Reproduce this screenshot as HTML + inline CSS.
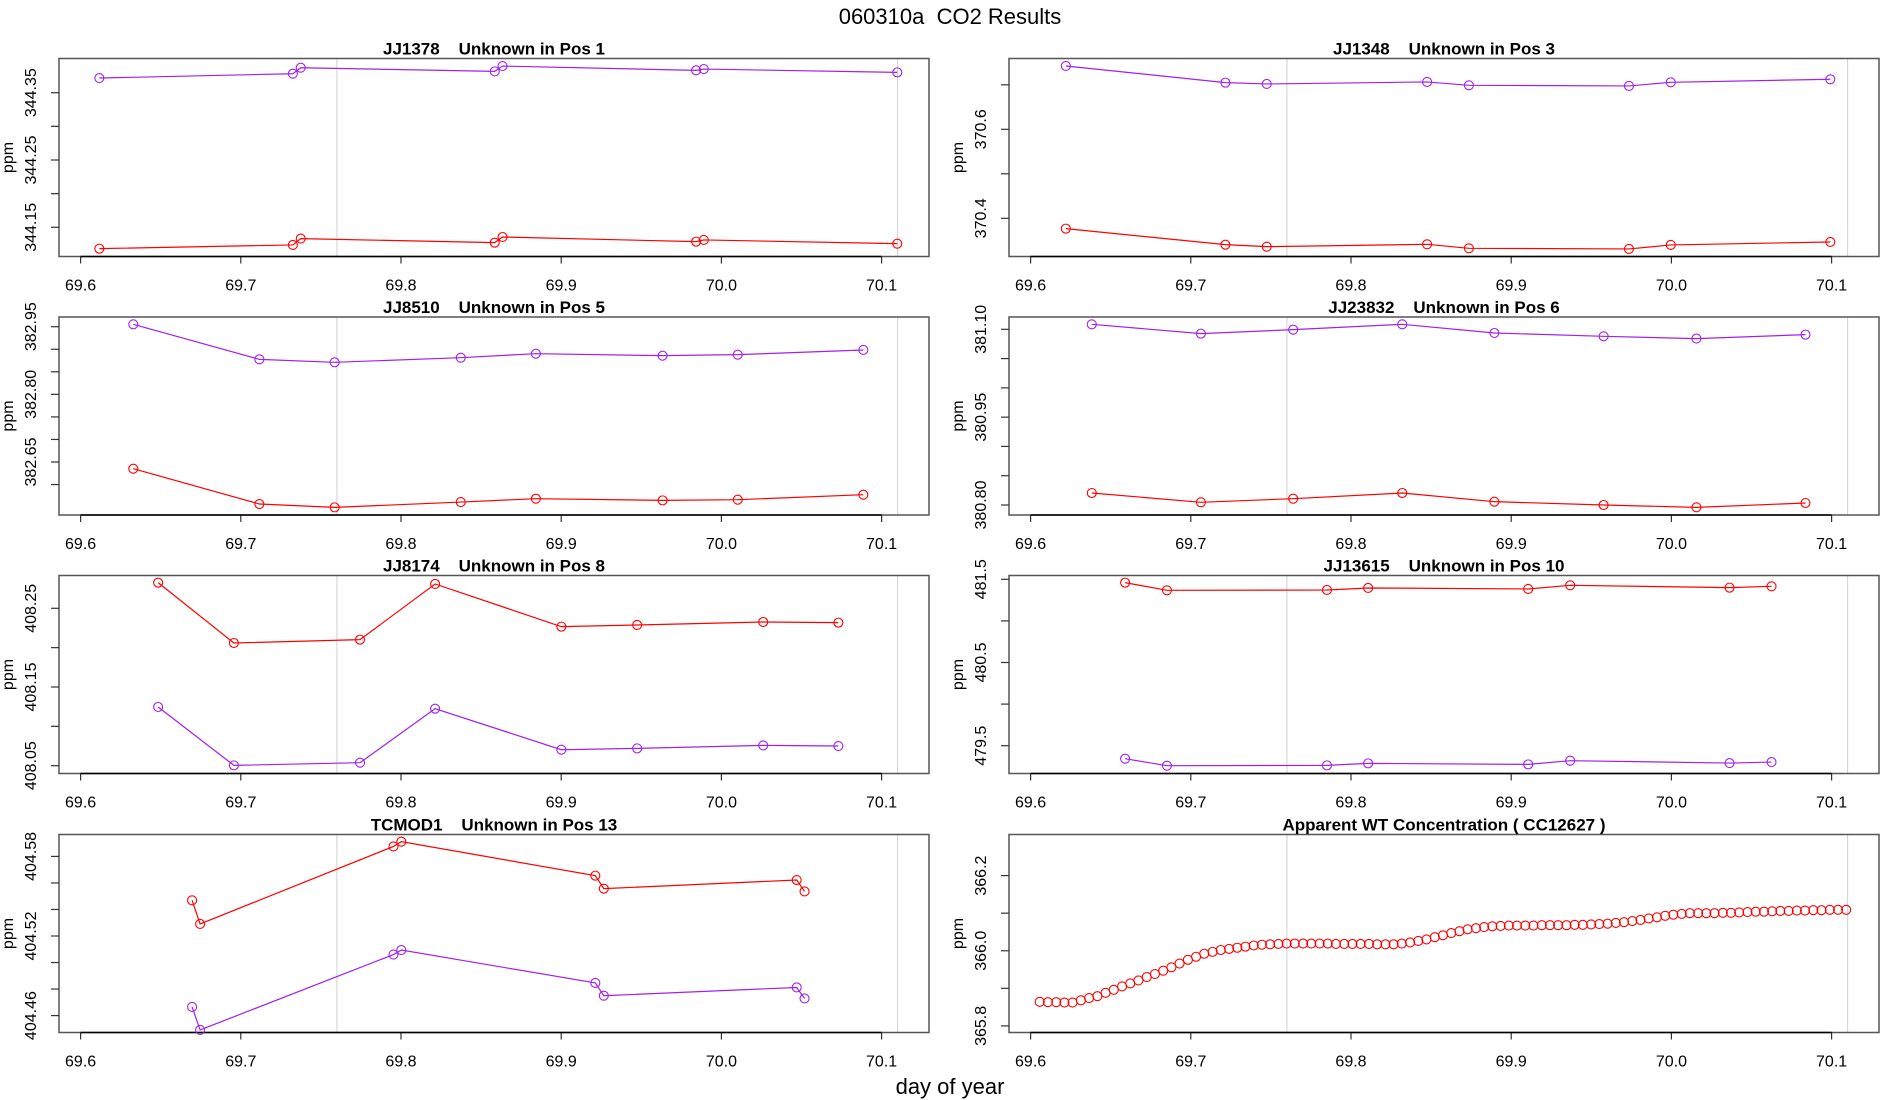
<!DOCTYPE html>
<html><head><meta charset="utf-8"><style>
body{margin:0;background:#fff;}
svg{display:block;font-family:"Liberation Sans",sans-serif;}
text{white-space:pre;}
</style></head><body>
<svg id="c" width="1900" height="1100" xmlns="http://www.w3.org/2000/svg" xml:space="preserve">
<text x="950" y="24" text-anchor="middle" font-size="22">060310a  CO2 Results</text>
<text x="950" y="1094" text-anchor="middle" font-size="22">day of year</text>
</svg>
<script>
// ---- data ----
const p1x=[69.6117,69.7325,69.7374,69.8585,69.8634,69.9842,69.989,70.1098];
const p1purple=[344.3718,344.3782,344.3871,344.3817,344.3896,344.3832,344.3851,344.3802];
const p1red=[344.1183,344.1238,344.1332,344.1272,344.1356,344.1287,344.1312,344.1257];
const p2x=[69.622,69.7216,69.7474,69.8475,69.8736,69.9735,69.9996,70.0992];
const p2purple=[370.7423,370.7049,370.7019,370.7064,370.6989,370.6974,370.7056,370.7124];
const p2red=[370.3768,370.3408,370.3363,370.3416,370.3326,370.3311,370.3401,370.3468];
const p3x=[69.6329,69.7116,69.7586,69.8373,69.8842,69.9633,70.0102,70.0886];
const p3purple=[382.9552,382.8776,382.871,382.8813,382.8902,382.8858,382.888,382.8984];
const p3red=[382.6352,382.5568,382.5494,382.5612,382.5686,382.5649,382.5664,382.5775];
const p4x=[69.6382,69.7063,69.7639,69.832,69.8895,69.9577,70.0156,70.0837];
const p4purple=[381.1085,381.0926,381.0994,381.1085,381.0937,381.088,381.0841,381.0909];
const p4red=[380.8205,380.8046,380.8108,380.8205,380.8057,380.8,380.796,380.8034];
const p5x=[69.6484,69.6957,69.7744,69.8213,69.9001,69.9474,70.0261,70.073];
const p5red=[408.2826,408.2059,408.2102,408.2809,408.2267,408.2288,408.2326,408.2318];
const p5purple=[408.1246,408.0504,408.0538,408.1225,408.0703,408.072,408.0758,408.075];
const p6x=[69.659,69.6851,69.785,69.8107,69.9106,69.9368,70.0363,70.0625];
const p6red=[481.46,481.3677,481.3717,481.3958,481.3838,481.4279,481.3998,481.4158];
const p6purple=[479.3437,479.2595,479.2635,479.2876,479.2756,479.3196,479.2916,479.3036];
const p7x=[69.6696,69.6746,69.7953,69.8002,69.9213,69.9266,70.047,70.0519];
const p7red=[404.5469,404.5291,404.5875,404.5911,404.5655,404.5557,404.5622,404.5536];
const p7purple=[404.4665,404.4492,404.506,404.5094,404.4846,404.475,404.4812,404.4729];
const p8x=[69.6057,69.6108,69.6160,69.6211,69.6262,69.6314,69.6365,69.6417,69.6468,69.6519,69.6571,69.6622,69.6673,69.6725,69.6776,69.6828,69.6879,69.6930,69.6982,69.7033,69.7084,69.7136,69.7187,69.7239,69.7290,69.7341,69.7393,69.7444,69.7495,69.7547,69.7598,69.7649,69.7701,69.7752,69.7804,69.7855,69.7906,69.7958,69.8009,69.8060,69.8112,69.8163,69.8215,69.8266,69.8317,69.8369,69.8420,69.8471,69.8523,69.8574,69.8626,69.8677,69.8728,69.8780,69.8831,69.8882,69.8934,69.8985,69.9036,69.9088,69.9139,69.9191,69.9242,69.9293,69.9345,69.9396,69.9447,69.9499,69.9550,69.9602,69.9653,69.9704,69.9756,69.9807,69.9858,69.9910,69.9961,70.0012,70.0064,70.0115,70.0167,70.0218,70.0269,70.0321,70.0372,70.0423,70.0475,70.0526,70.0578,70.0629,70.0680,70.0732,70.0783,70.0834,70.0886,70.0937,70.0989,70.1040,70.1091];
const p8red=[365.864,365.863,365.863,365.862,365.862,365.868,365.874,365.879,365.888,365.896,365.905,365.913,365.921,365.930,365.938,365.947,365.956,365.966,365.976,365.984,365.992,365.997,366.002,366.005,366.008,366.011,366.014,366.016,366.017,366.018,366.019,366.019,366.019,366.019,366.019,366.019,366.018,366.018,366.018,366.018,366.018,366.017,366.017,366.017,366.019,366.022,366.026,366.030,366.036,366.041,366.047,366.052,366.057,366.060,366.063,366.065,366.066,366.067,366.067,366.067,366.067,366.068,366.068,366.068,366.068,366.069,366.069,366.070,366.071,366.072,366.074,366.076,366.079,366.082,366.086,366.089,366.093,366.096,366.098,366.100,366.100,366.100,366.100,366.101,366.101,366.102,366.103,366.104,366.104,366.105,366.106,366.106,366.107,366.107,366.108,366.108,366.109,366.109,366.109];
const xTicks=[69.6,69.7,69.8,69.9,70.0,70.1];
const xTickLabels=["69.6","69.7","69.8","69.9","70.0","70.1"];
const refLines=[69.76,70.11];
const p1ticks=[344.15,344.20,344.25,344.30,344.35], p1labels=["344.15","","344.25","","344.35"];
const p2ticks=[370.3,370.4,370.5,370.6,370.7], p2labels=["","370.4","","370.6",""];
const p3ticks=[382.60,382.65,382.70,382.75,382.80,382.85,382.90,382.95], p3labels=["","382.65","","","382.80","","","382.95"];
const p4ticks=[380.80,380.85,380.90,380.95,381.00,381.05,381.10], p4labels=["380.80","","","380.95","","","381.10"];
const p5ticks=[408.05,408.10,408.15,408.20,408.25], p5labels=["408.05","","408.15","","408.25"];
const p6ticks=[479.5,480.0,480.5,481.0,481.5], p6labels=["479.5","","480.5","","481.5"];
const p7ticks=[404.46,404.48,404.50,404.52,404.54,404.56,404.58], p7labels=["404.46","","","404.52","","","404.58"];
const p8ticks=[365.8,365.9,366.0,366.1,366.2], p8labels=["365.8","","366.0","","366.2"];

const PURPLE="#a020f0", RED="#ff0000";
const panels=[
 {name:"jj1378",title:"JJ1378    Unknown in Pos 1",col:0,top:58.5,ya:[344.35,92.7],yb:[344.15,227.3],ticks:p1ticks,labels:p1labels,x:p1x,series:[[p1purple,PURPLE,"purple"],[p1red,RED,"red"]],lines:true},
 {name:"jj1348",title:"JJ1348    Unknown in Pos 3",col:1,top:58.5,ya:[370.6,129.3],yb:[370.4,218.3],ticks:p2ticks,labels:p2labels,x:p2x,series:[[p2purple,PURPLE,"purple"],[p2red,RED,"red"]],lines:true},
 {name:"jj8510",title:"JJ8510    Unknown in Pos 5",col:0,top:317,ya:[382.95,326.7],yb:[382.65,462],ticks:p3ticks,labels:p3labels,x:p3x,series:[[p3purple,PURPLE,"purple"],[p3red,RED,"red"]],lines:true},
 {name:"jj23832",title:"JJ23832    Unknown in Pos 6",col:1,top:317,ya:[381.10,329.3],yb:[380.80,505],ticks:p4ticks,labels:p4labels,x:p4x,series:[[p4purple,PURPLE,"purple"],[p4red,RED,"red"]],lines:true},
 {name:"jj8174",title:"JJ8174    Unknown in Pos 8",col:0,top:575.5,ya:[408.25,608.3],yb:[408.05,765.7],ticks:p5ticks,labels:p5labels,x:p5x,series:[[p5red,RED,"red"],[p5purple,PURPLE,"purple"]],lines:true},
 {name:"jj13615",title:"JJ13615    Unknown in Pos 10",col:1,top:575.5,ya:[481.5,579.3],yb:[479.5,745.7],ticks:p6ticks,labels:p6labels,x:p6x,series:[[p6red,RED,"red"],[p6purple,PURPLE,"purple"]],lines:true},
 {name:"tcmod1",title:"TCMOD1    Unknown in Pos 13",col:0,top:834.5,ya:[404.58,856.4],yb:[404.46,1015.6],ticks:p7ticks,labels:p7labels,x:p7x,series:[[p7red,RED,"red"],[p7purple,PURPLE,"purple"]],lines:true},
 {name:"wt-concentration",title:"Apparent WT Concentration ( CC12627 )",col:1,top:834.5,ya:[366.2,875.6],yb:[365.8,1025.9],ticks:p8ticks,labels:p8labels,x:p8x,series:[[p8red,RED,"red"]],lines:false}
];
const svg=document.getElementById('c');
const NS="http://www.w3.org/2000/svg";
function mk(tag,attrs,parent){const e=document.createElementNS(NS,tag);for(const k in attrs)e.setAttribute(k,attrs[k]);(parent||svg).appendChild(e);return e;}
const W=870,H=198;
panels.forEach(p=>{
  const L=p.col===0?59:1009, T=p.top, B=T+H;
  const g=mk('g',{});
  
  
  const xs=v=>L+21.6+(v-69.6)*1602;
  const ys=v=>p.ya[1]+(v-p.ya[0])*(p.yb[1]-p.ya[1])/(p.yb[0]-p.ya[0]);
  refLines.forEach(r=>{const l=mk('line',{x1:xs(r),x2:xs(r),y1:T,y2:B,stroke:"#d0d0d0","stroke-width":1},g);
    
    });
  const box=mk('rect',{x:L,y:T,width:W,height:H,fill:"none",stroke:"#555","stroke-width":1.5},g);
  
  
  const t=mk('text',{x:L+W/2,y:T-4,"text-anchor":"middle","font-size":17,"font-weight":"bold"},g);t.textContent=p.title;
  
  
  xTicks.forEach((v,i)=>{const x=xs(v);mk('line',{x1:x,x2:x,y1:B,y2:B+7,stroke:"#333","stroke-width":1.2},g);
    const tl=mk('text',{x:x,y:B+34,"text-anchor":"middle","font-size":16},g);tl.textContent=xTickLabels[i];
    
    });
  mk('line',{x1:xs(69.6),x2:xs(70.1),y1:B,y2:B,stroke:"#000","stroke-width":1.5},g);
  p.ticks.forEach((v,i)=>{const y=ys(v);if(y<T-1||y>B+1)return;mk('line',{x1:L-8,x2:L,y1:y,y2:y,stroke:"#333","stroke-width":1.2},g);
    if(p.labels[i]){const tl=mk('text',{x:0,y:0,"text-anchor":"middle","font-size":16,transform:`translate(${L-23},${y}) rotate(-90)`},g);tl.textContent=p.labels[i];
      
      }});
  const yl=mk('text',{x:0,y:0,"text-anchor":"middle","font-size":16,transform:`translate(${L-46},${T+H/2}) rotate(-90)`},g);yl.textContent="ppm";
  
  
  p.series.forEach(([vals,col,cname])=>{
    const sg=mk('g',{},g);
    
    
    if(p.lines){
      const pts=p.x.map((x,i)=>xs(x)+','+ys(vals[i]));
      mk('polyline',{points:pts.join(' '),fill:"none",stroke:col,"stroke-width":1.2},sg);
    }
    p.x.forEach((x,i)=>{const c=mk('circle',{cx:xs(x),cy:ys(vals[i]),r:4.5,fill:"none",stroke:col,"stroke-width":1.1},sg);
      
      });
  });
});
</script>
</body></html>
